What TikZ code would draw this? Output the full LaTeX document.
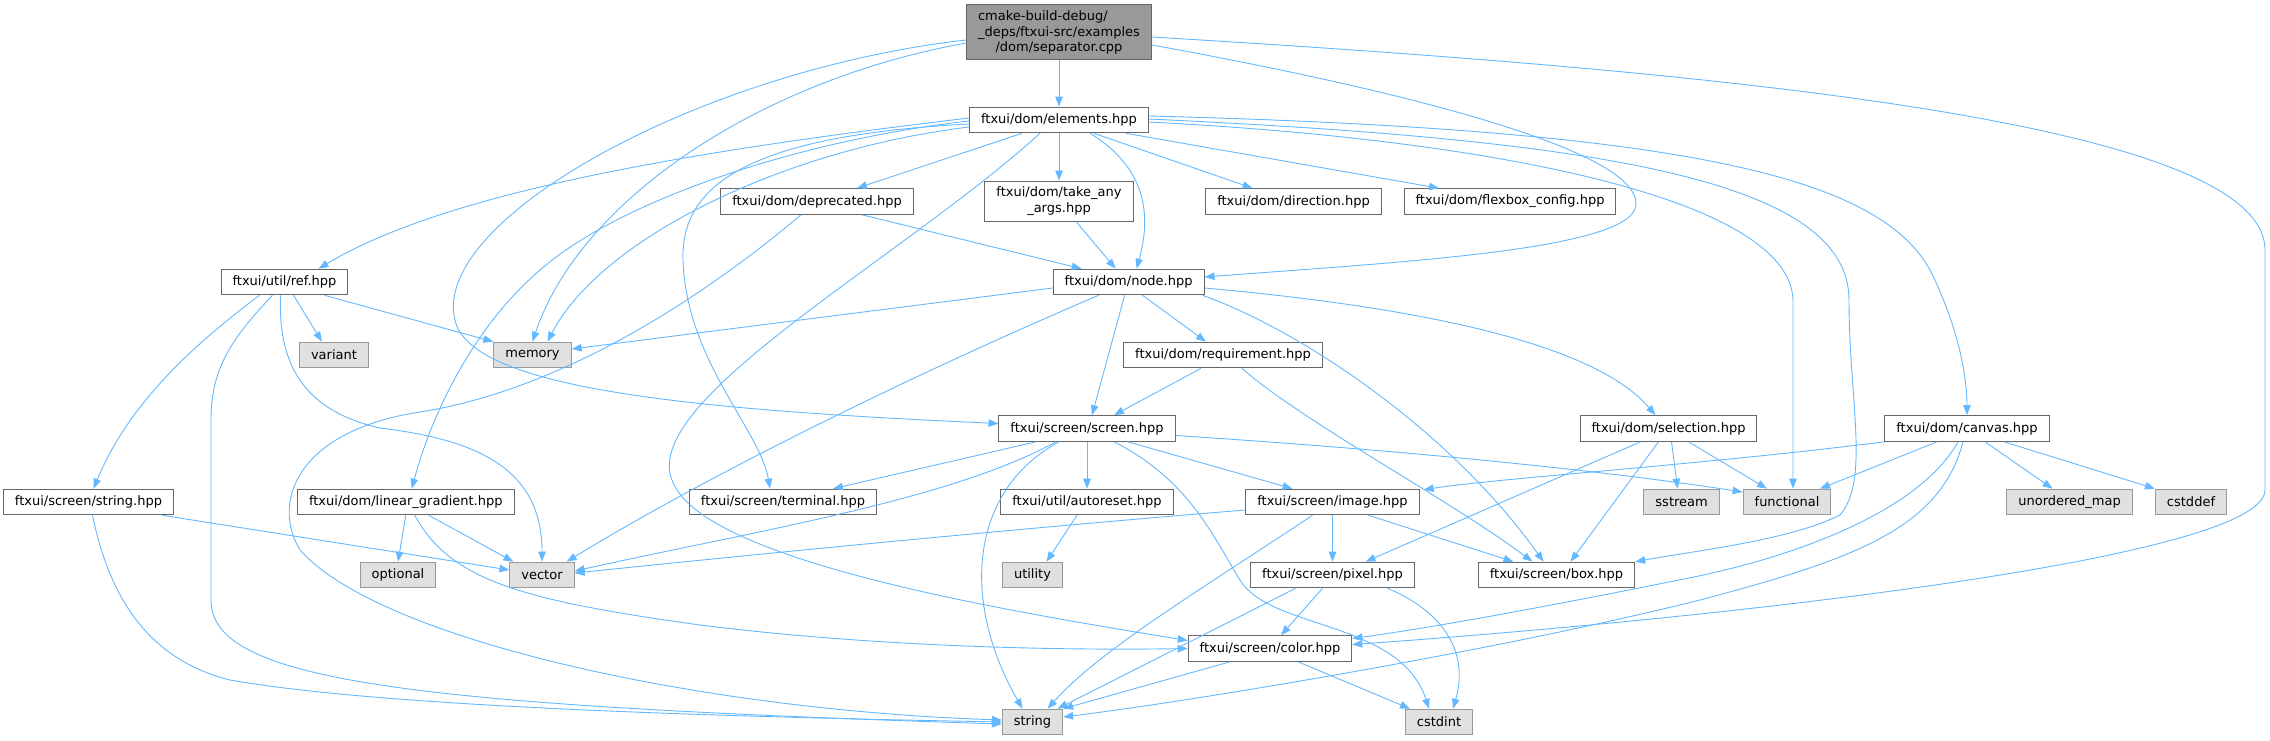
\documentclass[tikz,border=0pt]{standalone}
\usepackage{fontspec}
\setmainfont{DejaVu Sans}
\usepackage{tikz}
\usetikzlibrary{calc}
\usetikzlibrary{arrows.meta}
\definecolor{incblue}{HTML}{63B8FF}
\definecolor{boxgray}{HTML}{666666}
\definecolor{sysgray}{HTML}{999999}
\definecolor{sysfill}{HTML}{E0E0E0}

\begin{document}
\begin{tikzpicture}[x=1pt,y=-1pt,>={Triangle[length=10pt,width=7.5pt]},
	  hdr node/.style={rectangle,draw=boxgray,fill=white,line width=1pt,font=\fontsize{13}{15.5}\selectfont,inner xsep=11.5pt,inner ysep=2pt,minimum height=25.6pt},
	  sys node/.style={hdr node,draw=sysgray,fill=sysfill},
	  root node/.style={hdr node,fill=sysgray,align=center,minimum height=55pt},
	  inc/.style={->,draw=incblue,line width=0.9pt},
	  every edge/.style={draw,inc}]
	 \useasboundingbox (0,0) rectangle (2270,740);

	 \node[root node] (sep) at (1059,32) {\begin{tabular}{@{}l@{}}cmake-build-debug/\\\_deps/ftxui-src/examples\end{tabular}\\/dom/separator.cpp};
	 \node[hdr node] (elements) at (1059,120) {ftxui/dom/elements.hpp};
	 \node[hdr node] (deprecated) at (817,201.5) {ftxui/dom/deprecated.hpp};
	 \node[hdr node, align=center, minimum height=40pt] (takeany) at (1059,201) {ftxui/dom/take\_any\\\_args.hpp};
	 \node[hdr node] (direction) at (1293.5,201.5) {ftxui/dom/direction.hpp};
	 \node[hdr node] (flexbox) at (1510,201.5) {ftxui/dom/flexbox\_config.hpp};
	 \node[hdr node] (ref) at (284.5,282) {ftxui/util/ref.hpp};
	 \node[hdr node] (nodeh) at (1128.6,282) {ftxui/dom/node.hpp};
	 \node[sys node] (variant) at (334,355) {variant};
	 \node[sys node] (memory) at (532.5,355) {memory};
	 \node[hdr node] (requirement) at (1223,355) {ftxui/dom/requirement.hpp};
	 \node[hdr node] (screen) at (1087,428.5) {ftxui/screen/screen.hpp};
	 \node[hdr node] (selection) at (1668.5,428.5) {ftxui/dom/selection.hpp};
	 \node[hdr node] (canvas) at (1967,428.5) {ftxui/dom/canvas.hpp};
	 \node[hdr node] (strhpp) at (88.5,502) {ftxui/screen/string.hpp};
	 \node[hdr node] (lingrad) at (405.8,502) {ftxui/dom/linear\_gradient.hpp};
	 \node[hdr node] (terminal) at (783,502) {ftxui/screen/terminal.hpp};
	 \node[hdr node] (autoreset) at (1087,502) {ftxui/util/autoreset.hpp};
	 \node[hdr node] (image) at (1332.5,502) {ftxui/screen/image.hpp};
	 \node[sys node] (sstream) at (1681.6,502) {sstream};
	 \node[sys node] (functional) at (1787,502) {functional};
	 \node[sys node] (umap) at (2069.6,502) {unordered\_map};
	 \node[sys node] (cstddef) at (2191,502) {cstddef};
	 \node[sys node] (optional) at (398,575) {optional};
	 \node[sys node] (vector) at (542,575) {vector};
	 \node[sys node] (utility) at (1032.5,575) {utility};
	 \node[hdr node] (pixel) at (1332.5,575) {ftxui/screen/pixel.hpp};
	 \node[hdr node] (boxh) at (1556.5,575) {ftxui/screen/box.hpp};
	 \node[hdr node] (colorh) at (1270,648.5) {ftxui/screen/color.hpp};
	 \node[sys node] (string) at (1032.5,722) {string};
	 \node[sys node] (cstdint) at (1439,722) {cstdint};

	 % straight includes
	 \path
	    (sep.south) edge (elements.north)
	    ($(elements.south)+(-37,0)$) edge ($(deprecated.north)+(40,0)$)
	    (elements.south) edge (takeany.north)
	    ($(elements.south)+(35,0)$) edge ($(direction.north)+(-41,0)$)
	    ($(elements.south)+(67,0)$) edge ($(flexbox.north)+(-71,0)$)
	    ($(deprecated.south)+(45,0)$) edge ($(nodeh.north)+(-47,0)$)
	    ($(takeany.south)+(17,0)$) edge ($(nodeh.north)+(-13,0)$)
	    ($(ref.south)+(9,0)$) edge ($(variant.north)+(-12,0)$)
	    ($(ref.south)+(40,0)$) edge (memory.north west)
	    ($(nodeh.west)+(0,6)$) edge ($(memory.east)+(0,-6)$)
	    ($(nodeh.south)+(-4,0)$) edge ($(screen.north)+(5,0)$)
	    ($(nodeh.south)+(14,0)$) edge ($(requirement.north)+(-17,0)$)
	    ($(requirement.south)+(-22,0)$) edge ($(screen.north)+(27,0)$)
	    ($(screen.south)+(-51,0)$) edge ($(terminal.north)+(50,0)$)
	    (screen.south) edge (autoreset.north)
	    ($(screen.south)+(41,0)$) edge ($(image.north)+(-40,0)$)
	    ($(selection.south)+(-28,0)$) edge ($(pixel.north)+(33,0)$)
	    ($(selection.south)+(-10,0)$) edge ($(boxh.north)+(14,0)$)
	    ($(selection.south)+(3,0)$) edge ($(sstream.north)+(-4,0)$)
	    ($(selection.south)+(20,0)$) edge ($(functional.north)+(-20,0)$)
	    ($(canvas.south)+(-30,0)$) edge ($(functional.north)+(33,0)$)
	    ($(canvas.south)+(18,0)$) edge ($(umap.north)+(-17,0)$)
	    ($(canvas.south)+(37,0)$) edge (cstddef.north west)
	    (image.south) edge (pixel.north)
	    ($(image.south)+(36,0)$) edge ($(boxh.north)+(-43,0)$)
	    ($(pixel.south)+(-37,0)$) edge ($(string.north)+(25,0)$)
	    ($(pixel.south)+(-10,0)$) edge ($(colorh.north)+(11,0)$)
	    ($(colorh.south)+(-40,0)$) edge (string.north east)
	    ($(colorh.south)+(28,0)$) edge ($(cstdint.north)+(-29,0)$)
	    ($(strhpp.south)+(74,0)$) edge ($(vector.west)+(0,-5)$)
	    (lingrad.south) edge (optional.north)
	    ($(lingrad.south)+(23,0)$) edge ($(vector.north west)+(4,0)$)
	    ($(autoreset.south)+(-10,0)$) edge ($(utility.north)+(14,0)$)
;
	 % curved includes
	 \draw[inc] ($(sep.west)+(0,11)$) .. controls (760,80) and (580,200) .. (memory.north);
	 \draw[inc] ($(sep.west)+(0,8)$) .. controls (700,70) and (430,220) .. (455,320) .. controls (470,390) and (700,410) .. ($(screen.west)+(0,-5)$);
	 \draw[inc] ($(sep.east)+(0,13)$) .. controls (1400,90) and (1640,150) .. (1636,205) .. controls (1632,250) and (1400,262) .. ($(nodeh.east)+(0,-5)$);
	 \draw[inc] ($(sep.east)+(0,5)$) .. controls (1700,70) and (2265,120) .. (2265,250) -- (2265,490) .. controls (2265,560) and (1700,620) .. ($(colorh.east)+(0,-4)$);
	 \draw[inc] ($(elements.south)+(-19,0)$) .. controls (900,260) and (640,400) .. (672,480) .. controls (700,560) and (1000,610) .. ($(colorh.west)+(0,-8)$);
	 \draw[inc] ($(elements.south)+(31,0)$) .. controls (1150,170) and (1150,220) .. ($(nodeh.north)+(8,0)$);
	 \draw[inc] ($(elements.west)+(0,-2)$) .. controls (700,150) and (450,190) .. ($(ref.north)+(34,0)$);
	 \draw[inc] ($(elements.west)+(0,1)$) .. controls (800,140) and (620,200) .. (540,270) .. controls (470,330) and (430,420) .. ($(lingrad.north)+(6,0)$);
	 \draw[inc] ($(elements.west)+(0,4)$) .. controls (760,135) and (680,180) .. (683,260) .. controls (686,360) and (760,430) .. ($(terminal.north)+(-13,0)$);
	 \draw[inc] ($(elements.west)+(0,7)$) .. controls (780,150) and (600,240) .. ($(memory.north)+(15,0)$);
	 \draw[inc] ($(elements.east)+(0,2)$) .. controls (1500,140) and (1790,200) .. (1793,300) -- ($(functional.north)+(6,0)$);
	 \draw[inc] ($(elements.east)+(0,-1)$) .. controls (1600,140) and (1849,180) .. (1849,300) .. controls (1849,400) and (1870,480) .. (1840,515) .. controls (1790,540) and (1700,550) .. (boxh.north east);
	 \draw[inc] ($(elements.east)+(0,-4)$) .. controls (1700,130) and (1880,180) .. (1930,270) .. controls (1960,330) and (1967,380) .. (canvas.north);
	 \draw[inc] ($(deprecated.south)+(-16,0)$) .. controls (700,300) and (560,390) .. (420,412) .. controls (300,430) and (270,500) .. (300,550) .. controls (380,640) and (700,710) .. ($(string.west)+(0,-2)$);
	 \draw[inc] ($(ref.south)+(-25,0)$) .. controls (200,340) and (130,400) .. ($(strhpp.north)+(5,0)$);
	 \draw[inc] ($(ref.south)+(-12,0)$) .. controls (230,340) and (211,370) .. (211,420) -- (211,600) .. controls (211,680) and (400,705) .. ($(string.west)+(0,2)$);
	 \draw[inc] ($(ref.south)+(-4,0)$) .. controls (278,360) and (300,410) .. (380,428) .. controls (480,440) and (542,470) .. (vector.north);
	 \draw[inc] ($(nodeh.south)+(-30,0)$) .. controls (900,380) and (700,480) .. ($(vector.north east)+(-8,0)$);
	 \draw[inc] ($(nodeh.south east)+(-2,0)$) .. controls (1300,330) and (1450,430) .. ($(boxh.north)+(-13,0)$);
	 \draw[inc] ($(nodeh.east)+(0,6)$) .. controls (1450,310) and (1600,350) .. ($(selection.north)+(-13,0)$);
	 \draw[inc] ($(requirement.south)+(19,0)$) .. controls (1300,420) and (1450,500) .. ($(boxh.north)+(-24,0)$);
	 \draw[inc] ($(screen.south)+(-31,0)$) .. controls (950,500) and (760,530) .. ($(vector.east)+(0,-4)$);
	 \draw[inc] ($(screen.south)+(-28,0)$) .. controls (970,490) and (960,600) .. ($(string.north)+(-10,0)$);
	 \draw[inc] ($(screen.south)+(27,0)$) .. controls (1190,480) and (1215,540) .. (1240,580) .. controls (1270,630) and (1400,620) .. ($(cstdint.north)+(-10,0)$);
	 \draw[inc] ($(screen.east)+(0,7)$) .. controls (1400,450) and (1600,470) .. ($(functional.west)+(0,-10)$);
	 \draw[inc] (canvas.south west) .. controls (1700,465) and (1500,478) .. ($(image.north east)+(4,1)$);
	 \draw[inc] ($(canvas.south)+(-9,0)$) .. controls (1920,510) and (1800,555) .. (1694,577) .. controls (1580,600) and (1450,625) .. ($(colorh.east)+(0,-10)$);
	 \draw[inc] ($(canvas.south)+(-4,0)$) .. controls (1940,530) and (1850,560) .. (1700,600) .. controls (1500,650) and (1200,700) .. ($(string.east)+(0,-5)$);
	 \draw[inc] ($(image.west)+(0,8)$) .. controls (1000,530) and (750,555) .. ($(vector.east)+(0,-2)$);
	 \draw[inc] ($(image.south)+(-20,0)$) .. controls (1200,590) and (1100,650) .. ($(string.north)+(15,0)$);
	 \draw[inc] ($(pixel.south)+(55,0)$) .. controls (1440,610) and (1470,650) .. ($(cstdint.north)+(14,0)$);
	 \draw[inc] ($(strhpp.south)+(4,0)$) .. controls (110,600) and (150,660) .. (230,680) .. controls (400,710) and (800,718) .. (string.west);
	 \draw[inc] ($(lingrad.south)+(9,0)$) .. controls (450,580) and (520,600) .. (700,625) .. controls (900,650) and (1100,650) .. (colorh.west);
	\end{tikzpicture}
\end{document}
